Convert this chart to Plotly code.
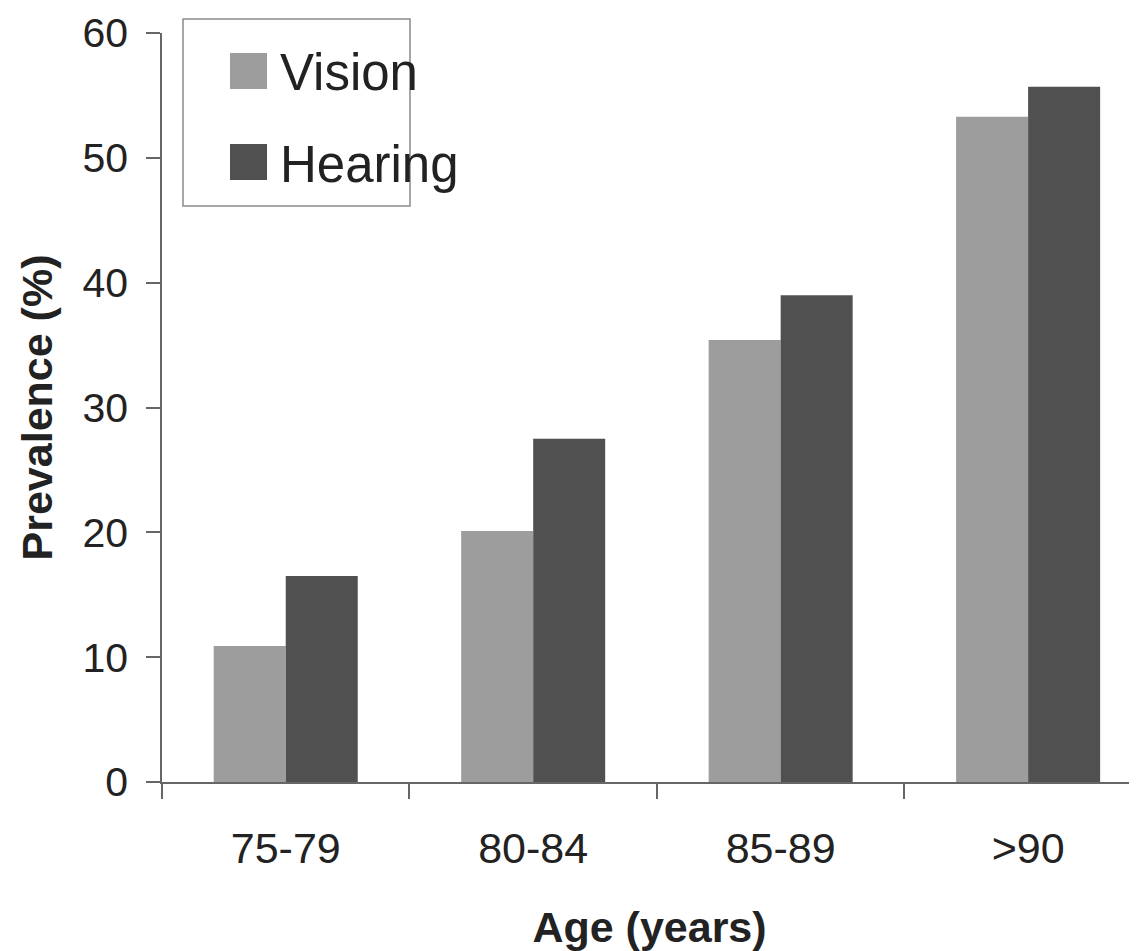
import plotly.graph_objects as go

categories = ["75-79", "80-84", "85-89", ">90"]
series_names = ["Vision", "Hearing"]
vision = [10.9, 20.1, 35.4, 53.3]
hearing = [16.5, 27.5, 39.0, 55.7]
y_ticks = [0, 10, 20, 30, 40, 50, 60]

colors = ["#9d9d9d", "#505050"]
FONT = "Liberation Sans, Arial, sans-serif"
TXT = "#222222"

OFF = 8  # page body margin
W, H = 1137 - OFF, 951 - OFF
ML, MT = 162 - OFF, 33 - OFF
BOTTOM = 782 - OFF
MB, MR = H - BOTTOM, 0
PW, PH = W - ML - MR, H - MT - MB


def px_x(p):
    return (p - OFF - ML) / PW


def px_y(p):
    return (BOTTOM - (p - OFF)) / PH


fig = go.Figure()
for name, vals, col in zip(series_names, [vision, hearing], colors):
    fig.add_trace(go.Bar(x=categories, y=vals, name=name,
                         marker=dict(color=col, line=dict(width=0)),
                         showlegend=False))

fig.update_layout(
    width=W, height=H,
    margin=dict(l=ML, r=MR, t=MT, b=MB, autoexpand=False),
    paper_bgcolor="white", plot_bgcolor="white",
    barmode="group", bargap=0.418, bargroupgap=0,
    font=dict(family=FONT, color=TXT, size=42),
)

fig.update_xaxes(
    range=[-0.5, 3.44], tickson="boundaries", ticks="outside", ticklen=15,
    tickwidth=1.5, tickcolor="#666", showline=True, linecolor="#666", linewidth=1.5,
    showgrid=False, zeroline=False, ticklabelstandoff=28, ticklabeloverflow="allow",
    tickfont=dict(size=43, family=FONT, color=TXT),
    title=dict(text="<b>Age (years)</b>", font=dict(size=43, family=FONT, color=TXT), standoff=42),
)
fig.update_yaxes(
    range=[0, 60], tickvals=y_ticks, ticks="outside", ticklen=14,
    tickwidth=1.5, tickcolor="#666", showline=True, linecolor="#666", linewidth=1.5,
    showgrid=False, zeroline=False, ticklabelstandoff=10, ticklabeloverflow="allow",
    tickfont=dict(size=41, family=FONT, color=TXT),
    title=dict(text="<b>Prevalence (%)</b>", font=dict(size=43, family=FONT, color=TXT), standoff=16),
)

# legend drawn as box with swatches
shapes = [dict(type="rect", xref="paper", yref="paper",
               x0=px_x(183), x1=px_x(410), y0=px_y(206), y1=px_y(19),
               line=dict(color="#8a8a8a", width=1.5), fillcolor="white", layer="above")]
annotations = []
for i, (name, col) in enumerate(zip(series_names, colors)):
    cy = 71 + i * 91
    shapes.append(dict(type="rect", xref="paper", yref="paper",
                       x0=px_x(230), x1=px_x(267), y0=px_y(cy + 18), y1=px_y(cy - 18),
                       line=dict(width=0), fillcolor=col, layer="above"))
    annotations.append(dict(xref="paper", yref="paper", x=px_x(278), y=px_y(cy + 2),
                            text=name, showarrow=False, xanchor="left", yanchor="middle",
                            font=dict(size=51, family=FONT, color=TXT)))
fig.update_layout(shapes=shapes, annotations=annotations)

fig.write_html("out.html")
